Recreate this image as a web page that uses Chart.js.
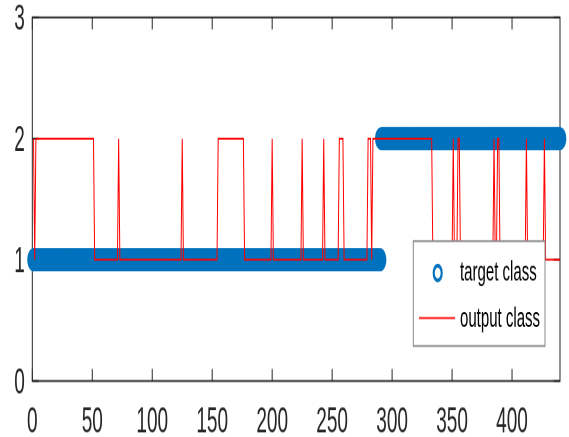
<!DOCTYPE html>
<html>
<head>
<meta charset="utf-8">
<script src="https://cdn.jsdelivr.net/npm/chart.js@4.4.1/dist/chart.umd.min.js"></script>
<style>
  html, body { margin: 0; padding: 0; background: #fff; }
  #wrap { width: 569px; height: 437px; overflow: hidden; }
  /* the original figure was stretched vertically, so draw flat and stretch */
  #chart { display: block; transform: scaleY(1.8517); transform-origin: 0 0; }
</style>
</head>
<body>
<div id="wrap"><canvas id="chart" width="569" height="236"></canvas></div>
<script>
const sampleCount = 440;
// class values are stored as runs: a run starts at a sample and holds its value
const targetRunStarts = [1, 291];
const targetRunValues = [1, 2];
const outputRunStarts = [1, 2, 3, 52, 72, 73, 125, 126, 155, 177, 200, 201, 225, 226, 243, 244, 256,
  260, 280, 283, 284, 334, 351, 352, 355, 357, 385, 386, 388, 390, 412, 413, 427, 428];
const outputRunValues = [2, 1, 2, 1, 2, 1, 2, 1, 2, 1, 2, 1, 2, 1, 2, 1, 2,
  1, 2, 1, 2, 1, 2, 1, 2, 1, 2, 1, 2, 1, 2, 1, 2, 1];
const xTicks = [0, 50, 100, 150, 200, 250, 300, 350, 400];
const yTicks = [0, 1, 2, 3];
const seriesNames = ["target class", "output class"];

// small lineHeight keeps the label boxes from pushing the plot area around
const tickFont = { family: '"Liberation Sans", Arial, sans-serif', size: 19, lineHeight: 0.2 };
const axisColor = "#262626";

function expandRuns(starts, values) {
  const points = [];
  let run = 0;
  for (let i = 1; i <= sampleCount; i++) {
    while (run + 1 < starts.length && starts[run + 1] <= i) run++;
    points.push({ x: i, y: values[run] });
  }
  return points;
}

// box round the axes with inward ticks, like the original figure
const axesBox = {
  id: "axesBox",
  beforeDatasetsDraw(chart) {
    const { ctx, chartArea: a, scales } = chart;
    const len = 6.5;
    ctx.save();
    ctx.strokeStyle = axisColor;
    ctx.lineWidth = 1;
    ctx.strokeRect(a.left, a.top, a.right - a.left, a.bottom - a.top);
    ctx.beginPath();
    scales.x.ticks.forEach((t) => {
      const px = scales.x.getPixelForValue(t.value);
      ctx.moveTo(px, a.bottom);
      ctx.lineTo(px, a.bottom - len);
      ctx.moveTo(px, a.top);
      ctx.lineTo(px, a.top + len);
    });
    scales.y.ticks.forEach((t) => {
      const py = scales.y.getPixelForValue(t.value);
      ctx.moveTo(a.left, py);
      ctx.lineTo(a.left + len, py);
      ctx.moveTo(a.right, py);
      ctx.lineTo(a.right - len, py);
    });
    ctx.stroke();
    ctx.restore();
  },
};

// legend sits inside the plot, over the data, with a white box
const boxLegend = {
  id: "boxLegend",
  afterDatasetsDraw(chart) {
    const { ctx, chartArea: a } = chart;
    const [target, output] = chart.data.datasets;
    const left = a.right - 146.7;
    const right = a.right - 15;
    const top = a.top + 120.8;
    const bottom = a.bottom - 18.9;
    ctx.save();
    ctx.fillStyle = "#fff";
    ctx.fillRect(left, top, right - left, bottom - top);
    ctx.strokeStyle = "#8a8a8a";
    ctx.lineWidth = 1;
    ctx.strokeRect(left, top, right - left, bottom - top);

    const row1 = top + 17.2;
    const row2 = top + 41.5;
    ctx.beginPath();
    ctx.arc(left + 24.4, row1, 4, 0, Math.PI * 2);
    ctx.strokeStyle = target.pointBorderColor;
    ctx.lineWidth = 2.1;
    ctx.stroke();

    ctx.beginPath();
    ctx.moveTo(left + 5.7, row2);
    ctx.lineTo(left + 41.7, row2);
    ctx.strokeStyle = output.borderColor;
    ctx.lineWidth = 1;
    ctx.stroke();

    ctx.fillStyle = "#000";
    ctx.font = '15px "Liberation Sans", Arial, sans-serif';
    ctx.textBaseline = "middle";
    ctx.textAlign = "left";
    ctx.fillText(target.label, left + 46.7, row1);
    ctx.fillText(output.label, left + 46.7, row2 + 0.8);
    ctx.restore();
  },
};

const ctx = document.getElementById("chart").getContext("2d");
new Chart(ctx, {
  type: "scatter",
  data: {
    datasets: [
      {
        label: seriesNames[0],
        data: expandRuns(targetRunStarts, targetRunValues),
        order: 2,
        showLine: false,
        pointStyle: "circle",
        pointRadius: 5,
        pointBorderWidth: 2.5,
        pointBackgroundColor: "rgba(0,0,0,0)",
        pointBorderColor: "#0072BD",
        borderColor: "#0072BD",
        clip: false,
      },
      {
        label: seriesNames[1],
        data: expandRuns(outputRunStarts, outputRunValues),
        order: 1,
        showLine: true,
        pointRadius: 0,
        borderColor: "#FF0000",
        borderWidth: 1,
        tension: 0,
      },
    ],
  },
  options: {
    responsive: false,
    devicePixelRatio: 2,
    animation: false,
    events: [],
    layout: { padding: { left: 6.74, right: 9, top: 0, bottom: -14.55 } },
    plugins: {
      legend: { display: false },
      tooltip: { enabled: false },
    },
    scales: {
      x: {
        type: "linear",
        min: 0,
        max: 440,
        afterBuildTicks: (axis) => {
          axis.ticks = xTicks.map((v) => ({ value: v }));
        },
        ticks: { font: tickFont, color: axisColor, padding: 20.5, maxRotation: 0, autoSkip: false },
        grid: { display: false, drawTicks: false },
        border: { display: false },
      },
      y: {
        type: "linear",
        min: 0,
        max: 3,
        afterBuildTicks: (axis) => {
          axis.ticks = yTicks.map((v) => ({ value: v }));
        },
        ticks: { font: tickFont, color: axisColor, padding: 7.5, labelOffset: 1.4 },
        grid: { display: false, drawTicks: false },
        border: { display: false },
      },
    },
  },
  plugins: [axesBox, boxLegend],
});
</script>
</body>
</html>
